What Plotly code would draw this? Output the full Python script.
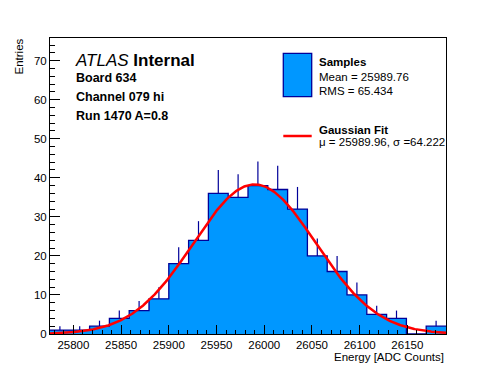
import numpy as np
import plotly.graph_objects as go

# ---------------- data ----------------
bin_low = 25775.5
bin_width = 20.75
counts = [1, 1, 2, 4, 6, 9, 18, 24, 36, 35, 38, 37, 32, 20, 16, 10, 5, 4, 0, 2]
fit_mu = 25989.96
fit_sigma = 64.222
fit_amp = 38.3
y_max = 75.8
x_tick_start = 25800
x_tick_step = 50

legend_title1 = "Samples"
legend_lines1 = ["Mean = 25989.76", "RMS = 65.434"]
legend_title2 = "Gaussian Fit"
legend_lines2 = ["μ = 25989.96, σ =64.222"]
info_lines = ["Board 634", "Channel 079 hi", "Run 1470 A=0.8"]

# ---------------- derived ----------------
n_bins = len(counts)
edges = [bin_low + i * bin_width for i in range(n_bins + 1)]
centers = [bin_low + (i + 0.5) * bin_width for i in range(n_bins)]
x_min, x_max = edges[0], edges[-1]
errors = [float(np.sqrt(c)) for c in counts]

FILL = "#0097ff"
NAVY = "#000099"
RED = "#ff0000"
FONT = "Liberation Sans, Arial, Helvetica, sans-serif"

fig = go.Figure()

# histogram (filled step)
fig.add_trace(go.Scatter(
    x=edges, y=counts + [counts[-1]],
    mode="lines", line=dict(shape="hv", color=NAVY, width=1.3),
    fill="tozeroy", fillcolor=FILL, hoverinfo="skip", showlegend=False))

# error bars (upper half, as drawn)
fig.add_trace(go.Scatter(
    x=centers, y=counts, mode="markers",
    marker=dict(size=1, opacity=0),
    error_y=dict(type="data", symmetric=False, array=errors,
                 arrayminus=[0] * n_bins, width=0, color=NAVY, thickness=1.2),
    hoverinfo="skip", showlegend=False))

# gaussian fit
xf = np.linspace(x_min, x_max, 500)
yf = fit_amp * np.exp(-0.5 * ((xf - fit_mu) / fit_sigma) ** 2)
fig.add_trace(go.Scatter(x=xf, y=yf, mode="lines",
                         line=dict(color=RED, width=2.5),
                         hoverinfo="skip", showlegend=False))

# ---------------- layout ----------------
OFF = 8  # page body margin
W, H = 496 - OFF, 372 - OFF
L, R, T, B = 50 - OFF, 50, 38 - OFF, 38
pw, ph = W - L - R, H - T - B


def px(x):
    return (x - OFF - L) / pw


def py(y):
    return (H - B - (y - OFF)) / ph


fig.update_layout(
    width=W, height=H,
    margin=dict(l=L, r=R, t=T, b=B, autoexpand=False),
    paper_bgcolor="white", plot_bgcolor="white",
    font=dict(family=FONT, color="black", size=11.5),
    showlegend=False,
)
fig.update_xaxes(
    range=[x_min, x_max], showgrid=False, zeroline=False,
    showline=True, linecolor="black", linewidth=1, mirror=True,
    ticks="inside", ticklen=9, tickcolor="black", tickwidth=1,
    tick0=x_tick_start, dtick=x_tick_step, tickformat="d",
    minor=dict(ticks="inside", ticklen=4.5, dtick=10, tickcolor="black", showgrid=False),
    tickfont=dict(size=11.5, family=FONT),
)
fig.update_yaxes(
    range=[0, y_max], showgrid=False, zeroline=False,
    showline=True, linecolor="black", linewidth=1, mirror=True,
    ticks="inside", ticklen=10, tickcolor="black", tickwidth=1,
    tick0=0, dtick=10,
    minor=dict(ticks="inside", ticklen=5, dtick=2, tickcolor="black", showgrid=False),
    tickfont=dict(size=11.5, family=FONT),
)

ann = []
# axis titles
ann.append(dict(text="Energy [ADC Counts]", xref="paper", yref="paper",
                x=px(446), y=py(357), xanchor="right", yanchor="middle",
                showarrow=False, font=dict(size=11.5)))
ann.append(dict(text="Entries", xref="paper", yref="paper",
                x=px(18.5), y=py(37), xanchor="center", yanchor="top",
                textangle=-90, showarrow=False, font=dict(size=11.5)))
# ATLAS label
ann.append(dict(text="<i>ATLAS</i> <b>Internal</b>", xref="paper", yref="paper",
                x=px(73), y=py(60), xanchor="left", yanchor="middle",
                showarrow=False, font=dict(size=17)))
for i, t in enumerate(info_lines):
    ann.append(dict(text="<b>%s</b>" % t, xref="paper", yref="paper",
                    x=px(74), y=py(77.5 + 19.3 * i), xanchor="left", yanchor="middle",
                    showarrow=False, font=dict(size=12.5)))
# legend texts
ann.append(dict(text="<b>%s</b>" % legend_title1, xref="paper", yref="paper",
                x=px(317), y=py(62), xanchor="left", yanchor="middle",
                showarrow=False, font=dict(size=11.5)))
for i, t in enumerate(legend_lines1):
    ann.append(dict(text=t, xref="paper", yref="paper",
                    x=px(317), y=py(77 + 13.5 * i), xanchor="left", yanchor="middle",
                    showarrow=False, font=dict(size=11.5)))
ann.append(dict(text="<b>%s</b>" % legend_title2, xref="paper", yref="paper",
                x=px(317), y=py(130), xanchor="left", yanchor="middle",
                showarrow=False, font=dict(size=11.5)))
for i, t in enumerate(legend_lines2):
    ann.append(dict(text=t, xref="paper", yref="paper",
                    x=px(317), y=py(142 + 13.5 * i), xanchor="left", yanchor="middle",
                    showarrow=False, font=dict(size=11.5)))
fig.update_layout(annotations=ann)

shapes = [
    dict(type="rect", xref="paper", yref="paper",
         x0=px(283.3), x1=px(311.7), y0=py(96.7), y1=py(53.3),
         fillcolor=FILL, line=dict(color=NAVY, width=1.3)),
    dict(type="line", xref="paper", yref="paper",
         x0=px(283.3), x1=px(311.7), y0=py(136), y1=py(136),
         line=dict(color=RED, width=2.5)),
]
fig.update_layout(shapes=shapes)

fig.write_html("out.html", config={"displayModeBar": False})
